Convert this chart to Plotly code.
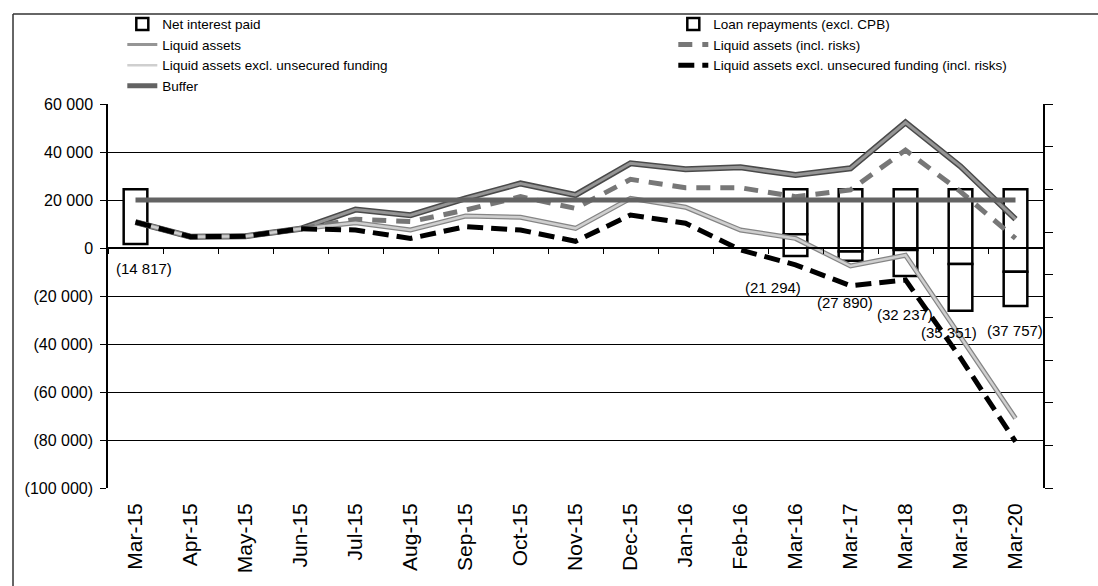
import plotly.graph_objects as go

# categories on the x axis
months = ["Mar-15", "Apr-15", "May-15", "Jun-15", "Jul-15", "Aug-15", "Sep-15",
          "Oct-15", "Nov-15", "Dec-15", "Jan-16", "Feb-16", "Mar-16", "Mar-17",
          "Mar-18", "Mar-19", "Mar-20"]

# bars (right hand axis, no labels)
net_interest_paid = [-6410, None, None, None, None, None, None, None, None, None,
                     None, None, -5270, -7290, -7110, -8750, -9660]
loan_repayments = [None, None, None, None, None, None, None, None, None, None,
                   None, None, -2540, -1080, -3050, -5470, -4020]

# lines (left hand axis)
liquid_assets = [10800, 4700, 4900, 8000, 16000, 13700, 20700, 26900, 22100, 35300,
                 32800, 33600, 30400, 33200, 52300, 34000, 12000]
liquid_assets_risks = [10800, 4700, 4900, 8000, 12000, 11000, 15800, 21400, 16500, 28600,
                       25100, 25100, 21400, 24200, 40800, 23500, 4000]
liquid_excl = [10800, 4700, 4900, 8000, 10500, 7500, 13300, 12800, 8200, 20700,
               17000, 7500, 4000, -7500, -3000, -37000, -71000]
liquid_excl_risks = [10800, 4700, 4900, 8000, 7500, 4000, 8900, 7500, 2800, 13750,
                     10300, -800, -7000, -15700, -13300, -45800, -80700]
buffer = [20000, 20000, 20000, 20000, 20000, 20000, 20000, 20000, 20000, 20000,
          20000, 20000, 20000, 20000, 20000, 20000, 20000]

# data labels under the bars
label_months = ["Mar-15", "Mar-16", "Mar-17", "Mar-18", "Mar-19", "Mar-20"]
label_values = [14817, 21294, 27890, 32237, 35351, 37757]
label_dx = [8, -23, -6, -1, -12, -1]
label_dy = [-24, -32, -42, -38, -22, -24]

y_ticks = [60000, 40000, 20000, 0, -20000, -40000, -60000, -80000, -100000]


def fmt(v):
    s = f"{abs(v):,}".replace(",", " ")
    return f"({s})" if v < 0 else s


y_tick_labels = [fmt(v) for v in y_ticks]

FONT = "Liberation Sans, Arial, sans-serif"

fig = go.Figure()

# bars sit on the primary (right, unlabelled) axis so that the lines overlay them
bar_style = dict(marker=dict(color="white", line=dict(color="black", width=2.5)),
                 width=0.43, xaxis="x", yaxis="y", hoverinfo="skip")
fig.add_trace(go.Bar(x=months, y=net_interest_paid, name="Net interest paid",
                     legend="legend", **bar_style))
fig.add_trace(go.Bar(x=months, y=loan_repayments, name="Loan repayments (excl. CPB)",
                     legend="legend2", **bar_style))

# outline underlays for the double-line look
fig.add_trace(go.Scatter(x=months, y=liquid_assets, mode="lines", xaxis="x", yaxis="y2",
                         line=dict(color="#4a4a4a", width=6), showlegend=False,
                         hoverinfo="skip"))
fig.add_trace(go.Scatter(x=months, y=liquid_excl, mode="lines", xaxis="x", yaxis="y2",
                         line=dict(color="#858585", width=5), showlegend=False,
                         hoverinfo="skip"))

fig.add_trace(go.Scatter(x=months, y=liquid_assets, mode="lines", name="Liquid assets",
                         xaxis="x", yaxis="y2", legend="legend",
                         line=dict(color="#959595", width=3)))
fig.add_trace(go.Scatter(x=months, y=liquid_assets_risks, mode="lines",
                         name="Liquid assets (incl. risks)", xaxis="x", yaxis="y2",
                         legend="legend2",
                         line=dict(color="#777777", width=5, dash="14px,10px")))
fig.add_trace(go.Scatter(x=months, y=liquid_excl, mode="lines",
                         name="Liquid assets excl. unsecured funding", xaxis="x",
                         yaxis="y2", legend="legend",
                         line=dict(color="#cfcfcf", width=2.5)))
fig.add_trace(go.Scatter(x=months, y=liquid_excl_risks, mode="lines",
                         name="Liquid assets excl. unsecured funding (incl. risks)",
                         xaxis="x", yaxis="y2", legend="legend2",
                         line=dict(color="black", width=5, dash="16px,8px")))
fig.add_trace(go.Scatter(x=months, y=buffer, mode="lines", name="Buffer",
                         xaxis="x2", yaxis="y2", legend="legend",
                         line=dict(color="#636363", width=5)))

# data labels
bar_bottom = {m: (a or 0) + (b or 0) for m, a, b in zip(months, net_interest_paid, loan_repayments)}
for m, v, dx, dy in zip(label_months, label_values, label_dx, label_dy):
    fig.add_annotation(x=m, y=bar_bottom[m], xref="x", yref="y", text=fmt(-v),
                       showarrow=False, xshift=dx, yshift=dy,
                       font=dict(family=FONT, size=15, color="black"))

x_range = [-0.5, len(months) - 0.5]
zero_pos = (0 - y_ticks[-1]) / (y_ticks[0] - y_ticks[-1])

legend_common = dict(orientation="v", xanchor="left", yanchor="top", traceorder="normal",
                     bgcolor="rgba(0,0,0,0)", tracegroupgap=0,
                     font=dict(family=FONT, size=13.5, color="black"))

fig.update_layout(
    width=1098, height=586,
    margin=dict(l=108, r=55, t=104, b=98, autoexpand=False),
    paper_bgcolor="white", plot_bgcolor="white",
    barmode="relative",
    font=dict(family=FONT, color="black"),
    legend=dict(x=0.0153, y=1.248, **legend_common),
    legend2=dict(x=0.6046, y=1.248, **legend_common),
    xaxis=dict(type="category", categoryorder="array", categoryarray=months,
               range=x_range, showgrid=False, ticks="", tickangle=-90,
               ticklabelstandoff=10,
               tickfont=dict(family=FONT, size=21), showline=False, automargin=False),
    xaxis2=dict(type="category", categoryorder="array", categoryarray=months,
                range=x_range, overlaying="x", anchor="free", position=zero_pos,
                showline=True, linecolor="black", linewidth=1.5, ticks="outside",
                tickson="boundaries", ticklen=5, tickcolor="black",
                showticklabels=False, showgrid=False, automargin=False),
    yaxis=dict(range=[-35000, 10000], dtick=5000, side="right",
               showgrid=False, zeroline=False, showticklabels=False,
               showline=True, linecolor="black", linewidth=1.5, ticks="outside",
               ticklen=8, tickcolor="black", automargin=False),
    yaxis2=dict(range=[y_ticks[-1], y_ticks[0]], tickvals=y_ticks, ticktext=y_tick_labels,
                overlaying="y", side="left",
                showgrid=True, gridcolor="black", gridwidth=1, zeroline=False,
                showline=True, linecolor="black", linewidth=1.5, ticks="outside",
                ticklen=6, tickcolor="black", automargin=False, ticklabelstandoff=4,
                tickfont=dict(family=FONT, size=16)),
)

# outer frame of the exhibit
fig.add_shape(type="line", xref="paper", yref="paper", x0=-0.1016, x1=1.06,
              y0=1.2344, y1=1.2344, line=dict(color="#333333", width=1.5))
fig.add_shape(type="line", xref="paper", yref="paper", x0=-0.1016, x1=-0.1016,
              y0=1.2344, y1=-0.26, line=dict(color="#333333", width=1.5))

fig.write_html("out.html", config={"displayModeBar": False},
               post_script="document.body.style.margin='0';")
